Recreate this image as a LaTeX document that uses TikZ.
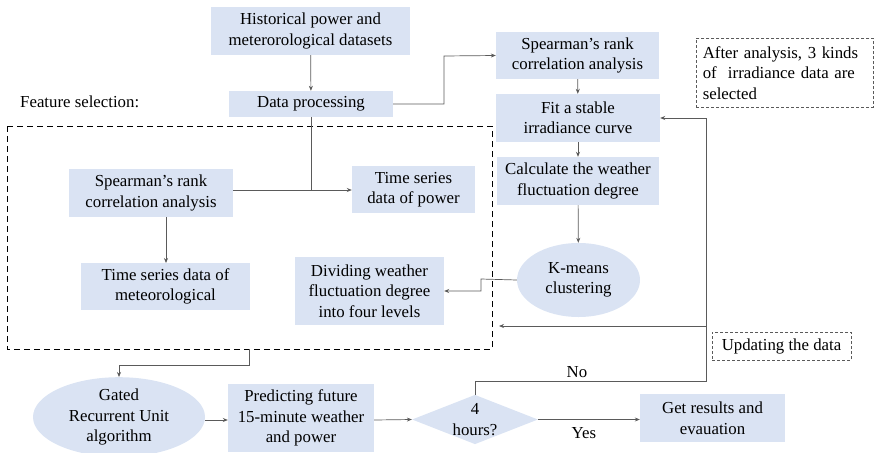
\documentclass[tikz,border=0pt]{standalone}
\usepackage{fontspec}
\setmainfont{Liberation Serif}
\usetikzlibrary{shapes.geometric,arrows.meta}
\definecolor{boxfill}{RGB}{218,227,243}
\definecolor{linegray}{RGB}{90,90,90}
\begin{document}
\begin{tikzpicture}[x=1pt,y=-1pt,
  font=\rmfamily\fontsize{16.8}{20.5}\selectfont,
  every node/.style={inner sep=0pt, align=center},
  proc/.style={rectangle, fill=boxfill, minimum width=#1},
  oval/.style={ellipse, fill=boxfill},
  link/.style={draw=linegray, line width=0.7pt, -{Stealth[length=5pt,width=4pt]}},
  plain/.style={draw=linegray, line width=0.7pt},
  note/.style={draw=linegray, line width=0.6pt, dash pattern=on 3pt off 2pt}
]
\useasboundingbox (0,0) rectangle (874,452);

% feature-selection frame
\draw[black, line width=1pt, dash pattern=on 6pt off 4pt] (7,126) rectangle (492,349);
\node[anchor=west] (fs) at (20,102) {Feature selection:};

% top flow
\node[proc=199pt, minimum height=48pt] (hist) at (310.5,31) {Historical power and\\meterorological datasets};
\node[proc=164pt, minimum height=26pt] (dp) at (311,104) {Data processing};
\node[proc=163pt, minimum height=47pt] (sp1) at (577.5,55.5) {Spearman’s rank\\correlation analysis};
\node[proc=164pt, minimum height=48pt] (fit) at (578,118) {Fit a stable\\irradiance curve};
\node[proc=162pt, minimum height=48pt] (calc) at (578,181) {Calculate the weather\\fluctuation degree};
\node[oval, minimum width=123pt, minimum height=74pt] (km) at (578.5,280) {K-means\\clustering};

% inside the frame
\node[proc=164pt, minimum height=48pt] (sp2) at (151,193) {Spearman’s rank\\correlation analysis};
\node[proc=123pt, minimum height=47pt] (tsp) at (413.5,189.5) {Time series\\data of power};
\node[proc=169pt, minimum height=47pt] (tsm) at (165.5,286.5) {Time series data of\\meteorological};
\node[proc=149pt, minimum height=68pt] (div) at (369.5,291) {Dividing weather\\fluctuation degree\\into four levels};

% bottom flow
\node[oval, minimum width=172pt, minimum height=70pt] (gru) at (119,417) {Gated\\Recurrent Unit\\algorithm};
\node[proc=146pt, minimum height=68pt] (pred) at (301,418) {Predicting future\\15-minute weather\\and power};
\node[diamond, fill=boxfill, minimum width=120pt, minimum height=47pt, aspect=2.55] (dec) at (475,419.5) {4\\hours?};
\node[proc=145pt, minimum height=48pt] (res) at (712.5,418) {Get results and\\evauation};

% notes
\node[note, anchor=north west, minimum width=177pt, minimum height=69pt, align=left, text width=170pt] (n1) at (696,38) {\hspace*{3pt}After analysis, 3 kinds\\\hspace*{3pt}of\ \ irradiance data are\\\hspace*{3pt}selected};
\node[note, minimum width=139pt, minimum height=28pt] (n2) at (781.5,346) {Updating the data};

% connectors
\draw[link] (hist) -- (dp);
\draw[link] (dp.east) -- (444,104) -- (444,56) -- (sp1.west);
\draw[link] (sp1) -- (fit);
\draw[link] (fit) -- (calc);
\draw[link] (calc) -- (km);
\draw[link] (km.west) -- (481,279) -- (481,291) -- (div.east);
\draw[plain] (dp.south) -- (311,190);
\draw[link] (sp2.east |- 0,190) -- (tsp.west |- 0,190);
\draw[link] (166,217) -- (166,263);
\coordinate (fb) at (249,349);
\draw[link] (fb) -- (249,365) -- (119,365) -- (gru.north);
\draw[link] (gru.east |- 0,420) -- (pred.west |- 0,420);
\draw[link] (pred.east |- 0,420) -- (dec.west);
\draw[link] (dec.east) -- (res.west |- dec.east) node[pos=0.45, below=8pt] (yes) {Yes};
\coordinate (loopc) at (706,381);
\draw[link] (dec.north) -- (475,381) -- (loopc) -- (706,118) -- (fit.east);
\draw[link] (706,326) -- (499,326);
\node (no) at (577,372) {No};
\end{tikzpicture}
\end{document}
